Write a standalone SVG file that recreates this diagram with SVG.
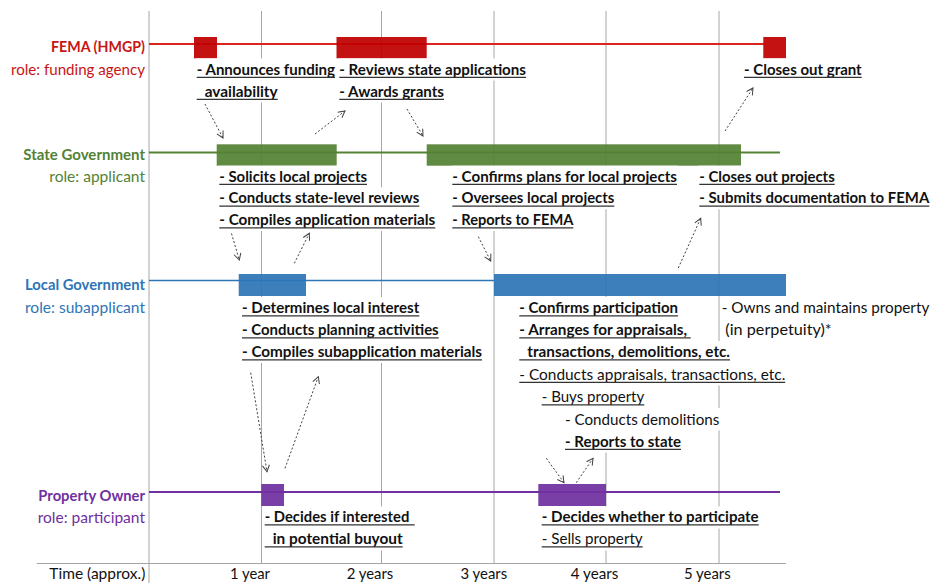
<svg xmlns="http://www.w3.org/2000/svg" width="939" height="583" viewBox="0 0 939 583">
<style>
text{font-family:Lato,"Liberation Sans",sans-serif;font-size:15px}
.b{font-weight:bold;fill:#111}
.r{fill:#111}
.lab{text-anchor:end}
.ul{stroke:#333;stroke-width:1.2}
.bg{fill:#fff}
.grid{stroke:#A6A6A6;stroke-width:1}
.arr{stroke:#404040;stroke-width:1;stroke-dasharray:2 2;fill:none;marker-end:url(#ah)}
.bar{fill-opacity:0.93}
</style>
<defs>
<marker id="ah" markerWidth="10" markerHeight="10" refX="7" refY="4" orient="auto" markerUnits="userSpaceOnUse">
<path d="M0.5,0.5 L7,4 L0.5,7.5" fill="none" stroke="#404040" stroke-width="1"/>
</marker>
</defs>
<rect width="939" height="583" fill="#fff"/>
<g id="grid">
<line class="grid" x1="149" y1="11" x2="149" y2="583"/>
<line class="grid" x1="261.5" y1="11" x2="261.5" y2="563"/>
<line class="grid" x1="381.5" y1="11" x2="381.5" y2="563"/>
<line class="grid" x1="494" y1="11" x2="494" y2="563"/>
<line class="grid" x1="606" y1="11" x2="606" y2="563"/>
<line class="grid" x1="719" y1="11" x2="719" y2="563"/>
<line class="grid" x1="36.7" y1="563.5" x2="786" y2="563.5"/>
</g>
<g id="time-axis">
<text class="r lab" x="145.3" y="579" textLength="96" lengthAdjust="spacingAndGlyphs">Time (approx.)</text>
<text class="r" x="230" y="579" textLength="40" lengthAdjust="spacingAndGlyphs">1 year</text>
<text class="r" x="346.7" y="579" textLength="46.6" lengthAdjust="spacingAndGlyphs">2 years</text>
<text class="r" x="460.5" y="579" textLength="46.6" lengthAdjust="spacingAndGlyphs">3 years</text>
<text class="r" x="570.7" y="579" textLength="47.6" lengthAdjust="spacingAndGlyphs">4 years</text>
<text class="r" x="684" y="579" textLength="46.7" lengthAdjust="spacingAndGlyphs">5 years</text>
</g>
<g id="fema">
<line x1="149" y1="44" x2="764" y2="44" stroke="#D8261E" stroke-width="2"/>
<rect class="bar" x="194" y="37" width="23" height="21.3" fill="#C00000"/>
<rect class="bar" x="336.5" y="37" width="90.2" height="21.3" fill="#C00000"/>
<rect class="bar" x="763.3" y="37" width="22.7" height="21.3" fill="#C00000"/>
<text class="lab" x="145" y="52" font-weight="bold" fill="#C81414" textLength="94" lengthAdjust="spacingAndGlyphs">FEMA (HMGP)</text>
<text class="lab" x="145" y="74.5" fill="#C81414" textLength="134" lengthAdjust="spacingAndGlyphs">role: funding agency</text>
<rect class="bg" x="196" y="58.5" width="140" height="22"/>
<rect class="bg" x="196" y="80.5" width="83" height="22"/>
<rect class="bg" x="338.5" y="58.5" width="188.5" height="22"/>
<rect class="bg" x="338.5" y="80.5" width="106.5" height="22"/>
<rect class="bg" x="743" y="58.5" width="120" height="22"/>
<text class="b" x="196.7" y="74.5" textLength="138.3" lengthAdjust="spacingAndGlyphs">- Announces funding</text>
<line class="ul" x1="196.7" y1="77.3" x2="335" y2="77.3"/>
<text class="b" x="204.7" y="96.5" textLength="73" lengthAdjust="spacingAndGlyphs">availability</text>
<line class="ul" x1="196.7" y1="99.3" x2="277.7" y2="99.3"/>
<text class="b" x="339.3" y="74.5" textLength="186.7" lengthAdjust="spacingAndGlyphs">- Reviews state applications</text>
<line class="ul" x1="339.3" y1="77.3" x2="526" y2="77.3"/>
<text class="b" x="339.3" y="96.5" textLength="104.7" lengthAdjust="spacingAndGlyphs">- Awards grants</text>
<line class="ul" x1="339.3" y1="99.3" x2="444" y2="99.3"/>
<text class="b" x="744" y="74.5" textLength="117.7" lengthAdjust="spacingAndGlyphs">- Closes out grant</text>
<line class="ul" x1="744" y1="77.3" x2="861.7" y2="77.3"/>
</g>
<g id="state">
<line x1="149" y1="152.5" x2="780" y2="152.5" stroke="#548235" stroke-width="2"/>
<rect class="bar" x="216.7" y="144.3" width="120" height="21.4" fill="#548235"/>
<rect class="bar" x="426.7" y="144.3" width="314.3" height="21.4" fill="#548235"/>
<text class="lab" x="145" y="160" font-weight="bold" fill="#548235" textLength="121.7" lengthAdjust="spacingAndGlyphs">State Government</text>
<text class="lab" x="145" y="182" fill="#548235" textLength="95.7" lengthAdjust="spacingAndGlyphs">role: applicant</text>
<rect class="bg" x="218.5" y="165.7" width="149.5" height="22"/>
<rect class="bg" x="218.5" y="187.3" width="202" height="22"/>
<rect class="bg" x="218.5" y="209" width="218" height="22"/>
<rect class="bg" x="451.5" y="165.7" width="226.5" height="22"/>
<rect class="bg" x="451.5" y="187.3" width="164" height="22"/>
<rect class="bg" x="451.5" y="209" width="123" height="22"/>
<rect class="bg" x="698.5" y="165.7" width="137.5" height="22"/>
<rect class="bg" x="698.5" y="187.3" width="232" height="22"/>
<text class="b" x="219.3" y="181.5" textLength="147.7" lengthAdjust="spacingAndGlyphs">- Solicits local projects</text>
<line class="ul" x1="219.3" y1="184.3" x2="367" y2="184.3"/>
<text class="b" x="219.3" y="203.3" textLength="200" lengthAdjust="spacingAndGlyphs">- Conducts state-level reviews</text>
<line class="ul" x1="219.3" y1="206.1" x2="419.3" y2="206.1"/>
<text class="b" x="219.3" y="225" textLength="216" lengthAdjust="spacingAndGlyphs">- Compiles application materials</text>
<line class="ul" x1="219.3" y1="227.8" x2="435.3" y2="227.8"/>
<text class="b" x="452.3" y="181.5" textLength="224.7" lengthAdjust="spacingAndGlyphs">- Confirms plans for local projects</text>
<line class="ul" x1="452.3" y1="184.3" x2="677" y2="184.3"/>
<text class="b" x="452.3" y="203.3" textLength="162" lengthAdjust="spacingAndGlyphs">- Oversees local projects</text>
<line class="ul" x1="452.3" y1="206.1" x2="614.3" y2="206.1"/>
<text class="b" x="452.3" y="225" textLength="121" lengthAdjust="spacingAndGlyphs">- Reports to FEMA</text>
<line class="ul" x1="452.3" y1="227.8" x2="573.3" y2="227.8"/>
<text class="b" x="699.3" y="181.5" textLength="135.4" lengthAdjust="spacingAndGlyphs">- Closes out projects</text>
<line class="ul" x1="699.3" y1="184.3" x2="834.7" y2="184.3"/>
<text class="b" x="699.3" y="203.3" textLength="230" lengthAdjust="spacingAndGlyphs">- Submits documentation to FEMA</text>
<line class="ul" x1="699.3" y1="206.1" x2="929.3" y2="206.1"/>
</g>
<g id="local">
<line x1="149" y1="280.5" x2="494" y2="280.5" stroke="#2E75B6" stroke-width="1.6"/>
<rect class="bar" x="238.7" y="274" width="67.3" height="22" fill="#2E75B6"/>
<rect class="bar" x="494" y="274" width="292" height="22" fill="#2E75B6"/>
<text class="lab" x="145" y="289.5" font-weight="bold" fill="#2E75B6" textLength="120" lengthAdjust="spacingAndGlyphs">Local Government</text>
<text class="lab" x="145" y="312.5" fill="#2E75B6" textLength="120" lengthAdjust="spacingAndGlyphs">role: subapplicant</text>
<rect class="bg" x="241" y="297" width="179.5" height="22"/>
<rect class="bg" x="241" y="319" width="199" height="22"/>
<rect class="bg" x="241" y="341" width="242" height="22"/>
<rect class="bg" x="518.5" y="297" width="160.5" height="22"/>
<rect class="bg" x="518.5" y="319" width="173" height="22"/>
<rect class="bg" x="518.5" y="341" width="212.5" height="22"/>
<rect class="bg" x="518.5" y="363" width="268" height="22.5"/>
<rect class="bg" x="541" y="385.5" width="104.5" height="22.5"/>
<rect class="bg" x="564" y="408" width="156.5" height="22.5"/>
<rect class="bg" x="564" y="430.5" width="118" height="22"/>
<rect class="bg" x="721" y="297" width="209" height="22"/>
<rect class="bg" x="724.5" y="319" width="108" height="22"/>
<text class="b" x="242" y="313" textLength="177.3" lengthAdjust="spacingAndGlyphs">- Determines local interest</text>
<line class="ul" x1="242" y1="315.8" x2="419.3" y2="315.8"/>
<text class="b" x="242" y="335" textLength="196.7" lengthAdjust="spacingAndGlyphs">- Conducts planning activities</text>
<line class="ul" x1="242" y1="337.8" x2="438.7" y2="337.8"/>
<text class="b" x="242" y="357" textLength="240" lengthAdjust="spacingAndGlyphs">- Compiles subapplication materials</text>
<line class="ul" x1="242" y1="359.8" x2="482" y2="359.8"/>
<text class="b" x="519.3" y="313" textLength="158.7" lengthAdjust="spacingAndGlyphs">- Confirms participation</text>
<line class="ul" x1="519.3" y1="315.8" x2="678" y2="315.8"/>
<text class="b" x="519.3" y="335" textLength="167.7" lengthAdjust="spacingAndGlyphs">- Arranges for appraisals,</text>
<line class="ul" x1="519.3" y1="337.8" x2="690.7" y2="337.8"/>
<text class="b" x="527.3" y="357" textLength="202.7" lengthAdjust="spacingAndGlyphs">transactions, demolitions, etc.</text>
<line class="ul" x1="519.3" y1="359.8" x2="730" y2="359.8"/>
<text class="r" x="519.3" y="379.5" textLength="266" lengthAdjust="spacingAndGlyphs">- Conducts appraisals, transactions, etc.</text>
<line class="ul" x1="519.3" y1="382.3" x2="785.3" y2="382.3"/>
<text class="r" x="541.7" y="402" textLength="102.6" lengthAdjust="spacingAndGlyphs">- Buys property</text>
<line class="ul" x1="541.7" y1="404.8" x2="644.3" y2="404.8"/>
<text class="r" x="565" y="424.5" textLength="154.3" lengthAdjust="spacingAndGlyphs">- Conducts demolitions</text>
<text class="b" x="565" y="446.5" textLength="116" lengthAdjust="spacingAndGlyphs">- Reports to state</text>
<line class="ul" x1="565" y1="449.3" x2="681" y2="449.3"/>
<text class="r" x="721.7" y="313" textLength="207.6" lengthAdjust="spacingAndGlyphs">- Owns and maintains property</text>
<text class="r" x="725.3" y="335" textLength="106.4" lengthAdjust="spacingAndGlyphs">(in perpetuity)*</text>
</g>
<g id="owner">
<line x1="149" y1="492" x2="780" y2="492" stroke="#7030A0" stroke-width="2"/>
<rect class="bar" x="261.3" y="484" width="22.7" height="22" fill="#7030A0"/>
<rect class="bar" x="538.3" y="484" width="67.7" height="22" fill="#7030A0"/>
<text class="lab" x="145" y="501" font-weight="bold" fill="#7030A0" textLength="106.7" lengthAdjust="spacingAndGlyphs">Property Owner</text>
<text class="lab" x="145" y="522.5" fill="#7030A0" textLength="107.3" lengthAdjust="spacingAndGlyphs">role: participant</text>
<rect class="bg" x="264" y="506.5" width="151.5" height="22"/>
<rect class="bg" x="264" y="528.5" width="139.5" height="22"/>
<rect class="bg" x="541" y="506.5" width="218.5" height="22"/>
<rect class="bg" x="541" y="528.5" width="102.5" height="22"/>
<text class="b" x="264.7" y="522" textLength="144.6" lengthAdjust="spacingAndGlyphs">- Decides if interested</text>
<line class="ul" x1="264.7" y1="524.8" x2="414.7" y2="524.8"/>
<text class="b" x="272.7" y="544" textLength="130" lengthAdjust="spacingAndGlyphs">in potential buyout</text>
<line class="ul" x1="264.7" y1="546.8" x2="402.7" y2="546.8"/>
<text class="b" x="541.7" y="522" textLength="217" lengthAdjust="spacingAndGlyphs">- Decides whether to participate</text>
<line class="ul" x1="541.7" y1="524.8" x2="758.7" y2="524.8"/>
<text class="r" x="541.7" y="544" textLength="101" lengthAdjust="spacingAndGlyphs">- Sells property</text>
<line class="ul" x1="541.7" y1="546.8" x2="642.7" y2="546.8"/>
</g>
<g id="connectors">
<line class="arr" x1="205" y1="104" x2="223" y2="138"/>
<line class="arr" x1="315" y1="134" x2="345" y2="111"/>
<line class="arr" x1="407" y1="109" x2="423" y2="136"/>
<line class="arr" x1="725" y1="131" x2="753" y2="88"/>
<line class="arr" x1="231.5" y1="233.5" x2="239.3" y2="260"/>
<line class="arr" x1="294.3" y1="263.3" x2="309.3" y2="233.3"/>
<line class="arr" x1="478.3" y1="236.7" x2="490.7" y2="261"/>
<line class="arr" x1="678.3" y1="268" x2="700.7" y2="218.3"/>
<line class="arr" x1="250.7" y1="372.7" x2="267" y2="471.7"/>
<line class="arr" x1="285" y1="468.3" x2="318.3" y2="376.7"/>
<line class="arr" x1="546.3" y1="458.3" x2="564" y2="482.7"/>
<line class="arr" x1="576.3" y1="482.7" x2="593" y2="458.3"/>
</g>
</svg>
